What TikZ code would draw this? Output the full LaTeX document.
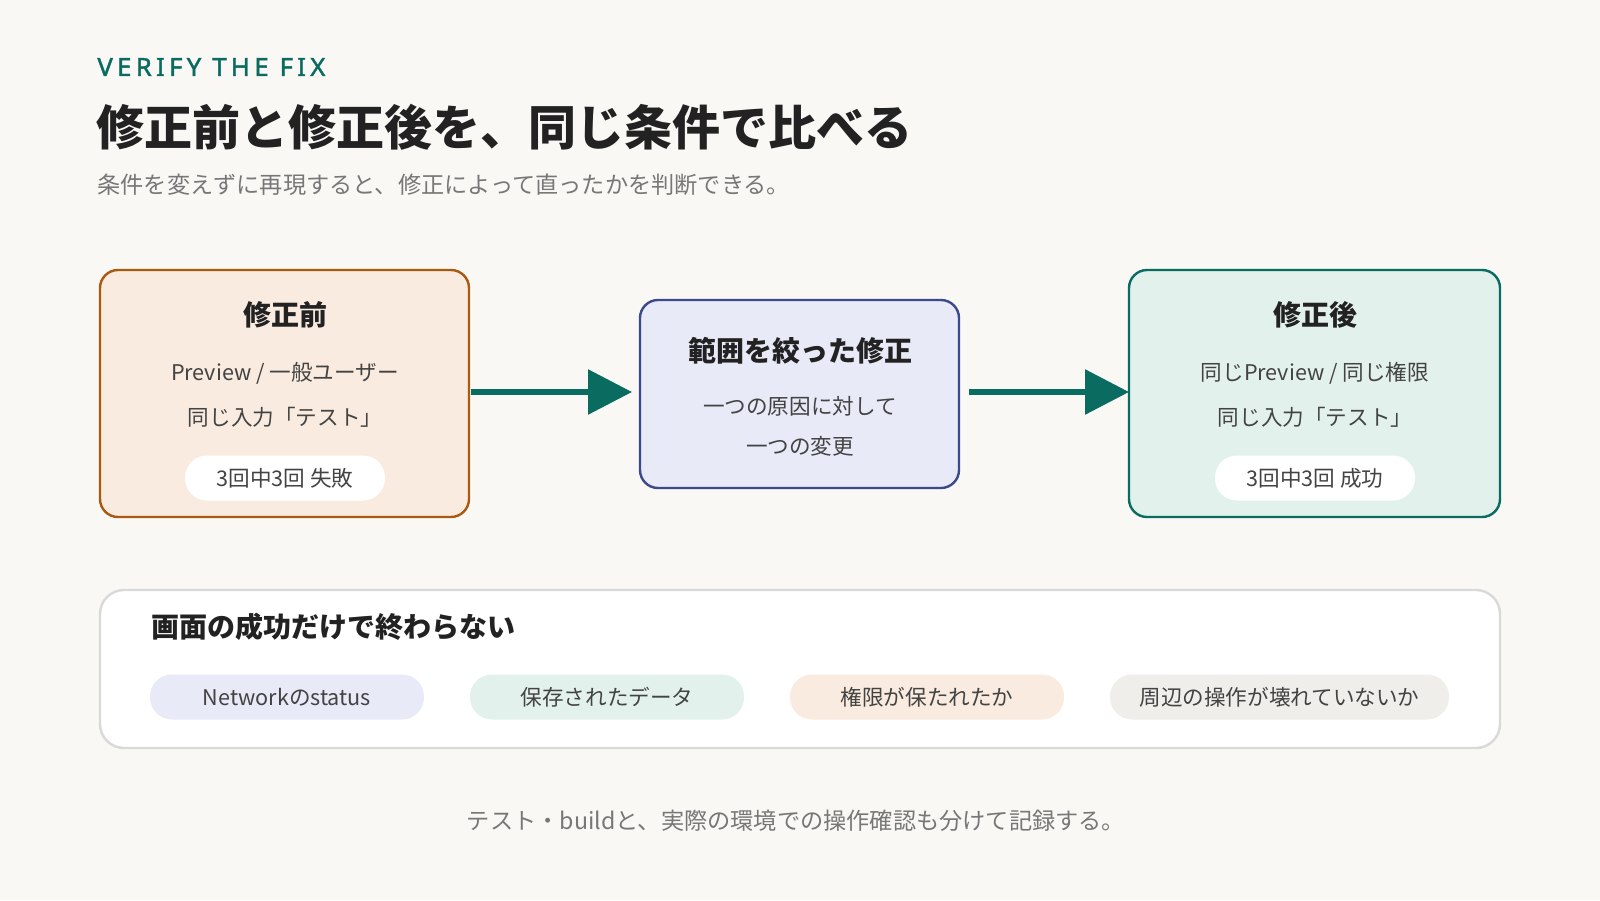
\documentclass[tikz,border=0pt]{standalone}
\usepackage{fontspec}
\setmainfont{Noto Sans CJK JP}
\newfontfamily\kickfont{Noto Sans}[FakeBold=1.6]
\usetikzlibrary{arrows.meta}
\definecolor{bg}{HTML}{F9F8F5}
\definecolor{teal}{HTML}{0A6B60}
\definecolor{ink}{HTML}{222222}
\definecolor{grey}{HTML}{777777}
\definecolor{orfill}{HTML}{F9EBDF}
\definecolor{ordraw}{HTML}{A85A10}
\definecolor{blfill}{HTML}{E8EAF7}
\definecolor{bldraw}{HTML}{3C4A8C}
\definecolor{tefill}{HTML}{E3F1EC}
\definecolor{grfill}{HTML}{EFEEEB}
\tikzset{
 box/.style={rounded corners=9, line width=1.2},
 ttl/.style={font=\bfseries\fontsize{14}{16}\selectfont, text=ink},
 body/.style={font=\fontsize{10.8}{12}\selectfont, text=ink!85},
 pill/.style={rounded corners=11, minimum height=22.5, font=\fontsize{10.8}{12}\selectfont, text=ink!85, inner sep=0},
 arr/.style={-{Triangle[length=22,width=22]}, line width=3, draw=teal},
}
\begin{document}
\begin{tikzpicture}[x=0.5pt,y=-0.5pt]
\fill[bg] (0,0) rectangle (1600,900);
\useasboundingbox (0,0) rectangle (1600,900);
\node[anchor=west, font=\kickfont\fontsize{12.5}{15}\selectfont, text=teal, inner sep=0, transform shape, xscale=1.03] (kick) at (97,67) {V\,E\,R\,I\,F\,Y\, T\,H\,E\, F\,I\,X};
\node[anchor=west, font=\bfseries\fontsize{24}{28}\selectfont, text=ink, inner sep=0] (title) at (96,127) {修正前と修正後を、同じ条件で比べる};
\node[anchor=west, font=\fontsize{11.6}{13}\selectfont, text=grey, inner sep=0] (sub) at (97,185) {条件を変えずに再現すると、修正によって直ったかを判断できる。};

\draw[box, fill=orfill, draw=ordraw] (100,270) rectangle (469,517);
\node[ttl] (t1) at (285,315) {修正前};
\node[body] (a1) at (285,373) {Preview / 一般ユーザー};
\node[body] (b1) at (285,417) {同じ入力「テスト」};
\node[pill, fill=white, minimum width=100] (p1) at (285,478) {3回中3回 失敗};

\draw[box, fill=blfill, draw=bldraw] (640,300) rectangle (959,488);
\node[ttl] (t2) at (800,351) {範囲を絞った修正};
\node[body] (a2) at (800,406) {一つの原因に対して};
\node[body] (b2) at (800,446) {一つの変更};

\draw[box, fill=tefill, draw=teal] (1129,270) rectangle (1500,517);
\node[ttl] (t3) at (1315,315) {修正後};
\node[body] (a3) at (1315,373) {同じPreview / 同じ権限};
\node[body] (b3) at (1315,417) {同じ入力「テスト」};
\node[pill, fill=white, minimum width=100] (p3) at (1315,478) {3回中3回 成功};

\coordinate (s1) at (471,392); \coordinate (e1) at (632,392);
\coordinate (s2) at (969,392); \coordinate (e2) at (1129,392);
\draw[arr] (s1) -- (e1);
\draw[arr] (s2) -- (e2);

\draw[rounded corners=12, fill=white, draw=black!15, line width=1.2] (100,590) rectangle (1500,748);
\node[anchor=west, font=\bfseries\fontsize{14}{15}\selectfont, text=ink, inner sep=0] (h) at (151,627) {画面の成功だけで終わらない};
\node[pill, fill=blfill, minimum width=137] (q1) at (287,697) {Networkのstatus};
\node[pill, fill=tefill, minimum width=137] (q2) at (607,697) {保存されたデータ};
\node[pill, fill=orfill, minimum width=137] (q3) at (927,697) {権限が保たれたか};
\node[pill, fill=grfill, minimum width=169.5] (q4) at (1279.5,697) {周辺の操作が壊れていないか};

\node[font=\fontsize{11.6}{13}\selectfont, text=grey] (foot) at (796,821) {テスト・buildと、実際の環境での操作確認も分けて記録する。};
\end{tikzpicture}
\end{document}
